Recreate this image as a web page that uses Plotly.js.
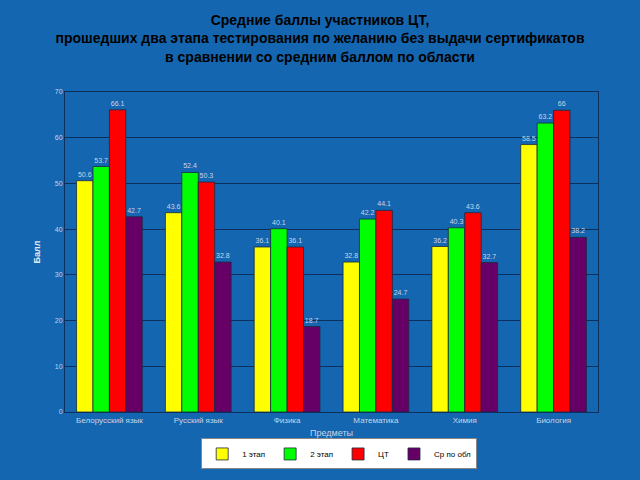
<!DOCTYPE html>
<html><head><meta charset="utf-8">
<script src="https://cdn.plot.ly/plotly-3.0.1.min.js"></script>
<style>html,body{margin:0;padding:0;background:#1466b0;}</style>
</head><body>
<div id="chart" style="width:640px;height:480px;"></div>
<script>
const categories = ["Белорусский язык","Русский язык","Физика","Математика","Химия","Биология"];
const stage1 = [50.6, 43.6, 36.1, 32.8, 36.2, 58.5];
const stage2 = [53.7, 52.4, 40.1, 42.2, 40.3, 63.2];
const ct = [66.1, 50.3, 36.1, 44.1, 43.6, 66];
const regionAvg = [42.7, 32.8, 18.7, 24.7, 32.7, 38.2];
const seriesNames = ["1 этап","2 этап","ЦТ","Ср по обл"];
const colors = ["#ffff00","#00ff00","#ff0000","#660066"];
const yTicks = [0,10,20,30,40,50,60,70];

const data = [stage1, stage2, ct, regionAvg].map((vals, i) => ({
  type: "bar",
  name: seriesNames[i],
  x: categories,
  y: vals,
  text: vals.map(v => String(v)),
  textposition: "outside",
  cliponaxis: false,
  textfont: {size: 7, color: "#c8d4e6", family: "Arial"},
  marker: {color: colors[i], line: {color: "#1a2a40", width: 0.8}}
}));

const layout = {
  width: 640, height: 480,
  paper_bgcolor: "#1466b0",
  plot_bgcolor: "#1466b0",
  margin: {l: 65, r: 42, t: 92, b: 68, autoexpand: false},
  title: {
    text: "Средние баллы участников ЦТ,<br>прошедших два этапа тестирования по желанию без выдачи сертификатов<br>в сравнении со средним баллом по области",
    font: {family: "Arial", size: 14, color: "#000000", weight: "bold"},
    x: 0.5, xanchor: "center", y: 0.9475, yanchor: "top"
  },
  barmode: "group",
  bargap: 0.26,
  bargroupgap: 0,
  xaxis: {
    tickfont: {family: "Arial", size: 8, color: "#c8d4e6"},
    showline: true, linecolor: "#0d2f5c", linewidth: 1, mirror: true,
    ticks: "",
    title: {text: "Предметы", font: {family: "Arial", size: 9, color: "#c8d4e6"}, standoff: 9}
  },
  yaxis: {
    range: [0, 70],
    tickvals: yTicks,
    tickfont: {family: "Arial", size: 7, color: "#c8d4e6"},
    showgrid: true, gridcolor: "#0d2f5c", gridwidth: 1,
    showline: true, linecolor: "#0d2f5c", linewidth: 1, mirror: true,
    zeroline: false,
    title: {text: "Балл", font: {family: "Arial", size: 9, color: "#e0e8f4", weight: "bold"}, standoff: 12}
  },
  legend: {
    orientation: "h",
    xref: "container", yref: "container",
    x: 0.53, xanchor: "center", y: 0.022, yanchor: "bottom",
    bgcolor: "#ffffff", bordercolor: "#888888", borderwidth: 1,
    font: {family: "Arial", size: 8, color: "#000000"},
    itemwidth: 30,
    traceorder: "normal"
  },
  showlegend: true
};

Plotly.newPlot("chart", data, layout, {displayModeBar: false, staticPlot: true});
</script>
</body></html>
